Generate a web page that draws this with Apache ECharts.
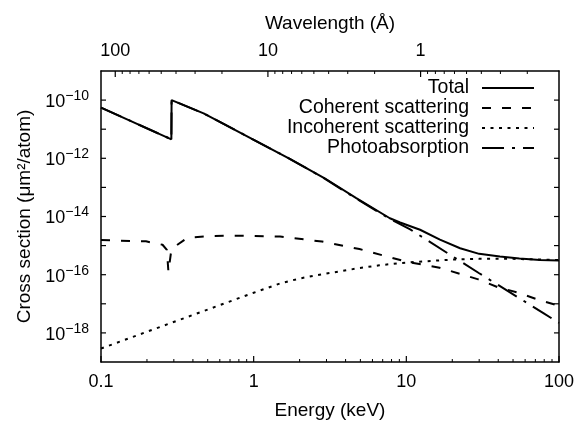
<!DOCTYPE html>
<html>
<head>
<meta charset="utf-8">
<script src="https://cdn.jsdelivr.net/npm/echarts@6/dist/echarts.min.js"></script>
<style>
  html, body { margin: 0; padding: 0; background: #fff; }
  #chart { width: 579px; height: 422px; }
</style>
</head>
<body>
<div id="chart"></div>
<script>
// Cross sections (µm²/atom) against photon energy (keV)

const totalEnergy = [0.1, 0.289, 0.29, 0.47, 1.7, 2.9, 4.7, 7.8, 9.1, 12.3, 16.6, 22.5, 30, 41, 55, 75, 100];
const totalSigma  = [5.5e-11, 4.5e-12, 1.0e-10, 3.5e-11, 1.0e-12, 2.1e-13, 4.3e-14, 8.7e-15, 6.2e-15,
                     3.5e-15, 1.6e-15, 8.1e-16, 5.2e-16, 4.2e-16, 3.6e-16, 3.2e-16, 3.1e-16];

const coherentEnergy = [0.1, 0.197, 0.253, 0.27, 0.2765, 0.287, 0.297, 0.368, 0.53, 0.79, 1.49, 2.8,
                        4.93, 10, 16.5, 29.6, 39.8, 52.8, 70.4, 100];
const coherentSigma  = [1.55e-15, 1.4e-15, 1.07e-15, 7.1e-16, 1.26e-16, 5.5e-16, 8.5e-16, 1.86e-15, 2.14e-15,
                        2.2e-15, 2.04e-15, 1.38e-15, 7.6e-16, 2.8e-16, 1.74e-16, 6.9e-17, 3.7e-17, 2.5e-17,
                        1.48e-17, 8.5e-18];

const incoherentEnergy = [0.1, 1, 1.49, 2.0, 2.7, 3.65, 4.93, 6.65, 9, 12.1, 20, 30, 50, 100];
const incoherentSigma  = [2.9e-19, 2.4e-17, 5.0e-17, 7.4e-17, 1.0e-16, 1.29e-16, 1.7e-16, 2.1e-16, 2.5e-16,
                          2.8e-16, 3.3e-16, 3.5e-16, 3.5e-16, 3.2e-16];

const photoEnergy = [0.1, 0.289, 0.29, 0.47, 1.7, 2.9, 4.7, 7.8, 10.6, 30, 79, 100];
const photoSigma  = [5.5e-11, 4.5e-12, 1.0e-10, 3.5e-11, 1.0e-12, 2.05e-13, 4.1e-14, 8.3e-15, 3.6e-15,
                     1.12e-16, 4.8e-18, 2.2e-18];

const seriesNames = ['Total', 'Coherent scattering', 'Incoherent scattering', 'Photoabsorption'];

// Axis ticks and labels
const energyTicks = [0.1, 1, 10, 100];
const energyMinorTicks = [0.2, 0.3, 0.4, 0.5, 0.6, 0.7, 0.8, 0.9, 2, 3, 4, 5, 6, 7, 8, 9,
                          20, 30, 40, 50, 60, 70, 80, 90];
const wavelengthTicks = [1, 10, 100];
const wavelengthMinorTicks = [0.2, 0.3, 0.4, 0.5, 0.6, 0.7, 0.8, 0.9, 2, 3, 4, 5, 6, 7, 8, 9,
                              20, 30, 40, 50, 60, 70, 80, 90];
const sigmaTicks = [1e-18, 1e-17, 1e-16, 1e-15, 1e-14, 1e-13, 1e-12, 1e-11, 1e-10];
const sigmaLabels = [1e-18, 1e-16, 1e-14, 1e-12, 1e-10];

// hc = 12.398 keV·Å links the two horizontal scales
const HC = 12.398;
const E_MIN = 0.1, E_MAX = 100;
const S_MIN = 1e-19, S_MAX = 1e-9;

const FONT = '"Liberation Sans", Arial, sans-serif';
const INK = '#000';

function pairs(xs, ys) { return xs.map((x, i) => [x, ys[i]]); }

const lineBase = { type: 'line', symbol: 'none', showSymbol: false, xAxisIndex: 0, yAxisIndex: 0,
                   animation: false, silent: true };

const frameLine = { show: true, onZero: false, lineStyle: { color: INK, width: 1.5 } };

// Inward tick marks drawn through the axes' own scales.
// side: 'bottom' | 'top' | 'left' | 'right'
function tickSeries(values, side, len, xAxisIndex) {
  const data = values.map(v => {
    if (side === 'bottom') return [v, S_MIN];
    if (side === 'top') return [v, S_MAX];
    if (side === 'left') return [E_MIN, v];
    return [E_MAX, v];
  });
  return {
    type: 'custom', xAxisIndex: xAxisIndex, yAxisIndex: 0, silent: true, clip: false, z: 6,
    animation: false, data: data,
    renderItem: (params, api) => {
      const p = api.coord([api.value(0), api.value(1)]);
      let x2 = p[0], y2 = p[1];
      if (side === 'bottom') y2 -= len;
      else if (side === 'top') y2 += len;
      else if (side === 'left') x2 += len;
      else x2 -= len;
      return {
        type: 'line',
        shape: { x1: p[0], y1: p[1], x2: x2, y2: y2 },
        style: { stroke: INK, lineWidth: len > 4 ? 1.2 : 1 }
      };
    }
  };
}

function energyAxis(extra) {
  return Object.assign({
    type: 'log', logBase: 10, min: E_MIN, max: E_MAX, gridIndex: 0, position: 'bottom',
    splitLine: { show: false }, axisTick: { show: false }
  }, extra);
}
function wavelengthAxis(extra) {
  return Object.assign({
    type: 'log', logBase: 10, min: HC / E_MAX, max: HC / E_MIN, inverse: true, gridIndex: 0,
    position: 'top', splitLine: { show: false }, axisTick: { show: false }
  }, extra);
}

const option = {
  backgroundColor: '#fff',
  animation: false,
  textStyle: { fontFamily: FONT, color: INK },
  grid: { left: 101, right: 20, top: 71, bottom: 60, containLabel: false, outerBoundsMode: 'none' },
  legend: {
    orient: 'vertical', align: 'right', right: 44, top: 78, padding: 0,
    itemWidth: 52, itemHeight: 14, itemGap: 0, selectedMode: false,
    data: seriesNames,
    itemStyle: { opacity: 0 },
    textStyle: { fontFamily: FONT, fontSize: 19.5, color: INK, lineHeight: 19.5, padding: [0, 8, 0, 0] }
  },
  xAxis: [
    energyAxis({
      name: 'Energy (keV)', nameLocation: 'middle', nameGap: 39,
      nameTextStyle: { fontFamily: FONT, fontSize: 19, color: INK },
      axisLine: frameLine,
      axisLabel: { show: true, margin: 11, fontFamily: FONT, fontSize: 18, color: INK, customValues: energyTicks }
    }),
    wavelengthAxis({
      name: 'Wavelength (Å)', nameLocation: 'middle', nameGap: 38,
      nameTextStyle: { fontFamily: FONT, fontSize: 19, color: INK },
      axisLine: frameLine,
      axisLabel: { show: true, margin: 11, fontFamily: FONT, fontSize: 18, color: INK, customValues: wavelengthTicks }
    })
  ],
  yAxis: [
    {
      type: 'log', logBase: 10, min: S_MIN, max: S_MAX, position: 'left',
      name: 'Cross section (μm²/atom)', nameLocation: 'middle', nameGap: 66,
      nameTextStyle: { fontFamily: FONT, fontSize: 19, color: INK },
      splitLine: { show: false },
      axisLine: frameLine,
      axisTick: { show: false },
      axisLabel: {
        show: true, margin: 12, customValues: sigmaLabels,
        formatter: v => '{b|10}{s|−' + (-Math.round(Math.log10(v))) + '}',
        rich: {
          b: { fontFamily: FONT, fontSize: 18, color: INK, lineHeight: 22, verticalAlign: 'bottom' },
          s: { fontFamily: FONT, fontSize: 14, color: INK, lineHeight: 22, verticalAlign: 'top' }
        }
      }
    },
    {
      type: 'log', logBase: 10, min: S_MIN, max: S_MAX, position: 'right',
      splitLine: { show: false },
      axisLine: frameLine,
      axisTick: { show: false },
      axisLabel: { show: false }
    }
  ],
  series: [
    Object.assign({}, lineBase, {
      name: seriesNames[0], data: pairs(totalEnergy, totalSigma), z: 4,
      lineStyle: { color: INK, width: 2, type: 'solid' }, itemStyle: { color: INK }
    }),
    Object.assign({}, lineBase, {
      name: seriesNames[1], data: pairs(coherentEnergy, coherentSigma), z: 3,
      lineStyle: { color: INK, width: 2, type: [9, 11] }, itemStyle: { color: INK }
    }),
    Object.assign({}, lineBase, {
      name: seriesNames[2], data: pairs(incoherentEnergy, incoherentSigma), z: 3,
      lineStyle: { color: INK, width: 2, type: [3, 5.5] }, itemStyle: { color: INK }
    }),
    Object.assign({}, lineBase, {
      name: seriesNames[3], data: pairs(photoEnergy, photoSigma), z: 3,
      lineStyle: { color: INK, width: 2, type: [22, 8, 3, 8] }, itemStyle: { color: INK }
    }),
    tickSeries(energyTicks, 'bottom', 6, 0),
    tickSeries(energyMinorTicks, 'bottom', 3, 0),
    tickSeries(wavelengthTicks, 'top', 6, 1),
    tickSeries(wavelengthMinorTicks, 'top', 3, 1),
    tickSeries(sigmaTicks, 'left', 5, 0),
    tickSeries(sigmaTicks, 'right', 5, 0)
  ]
};

const chart = echarts.init(document.getElementById('chart'), null, { renderer: 'canvas' });
chart.setOption(option);
</script>
</body>
</html>
